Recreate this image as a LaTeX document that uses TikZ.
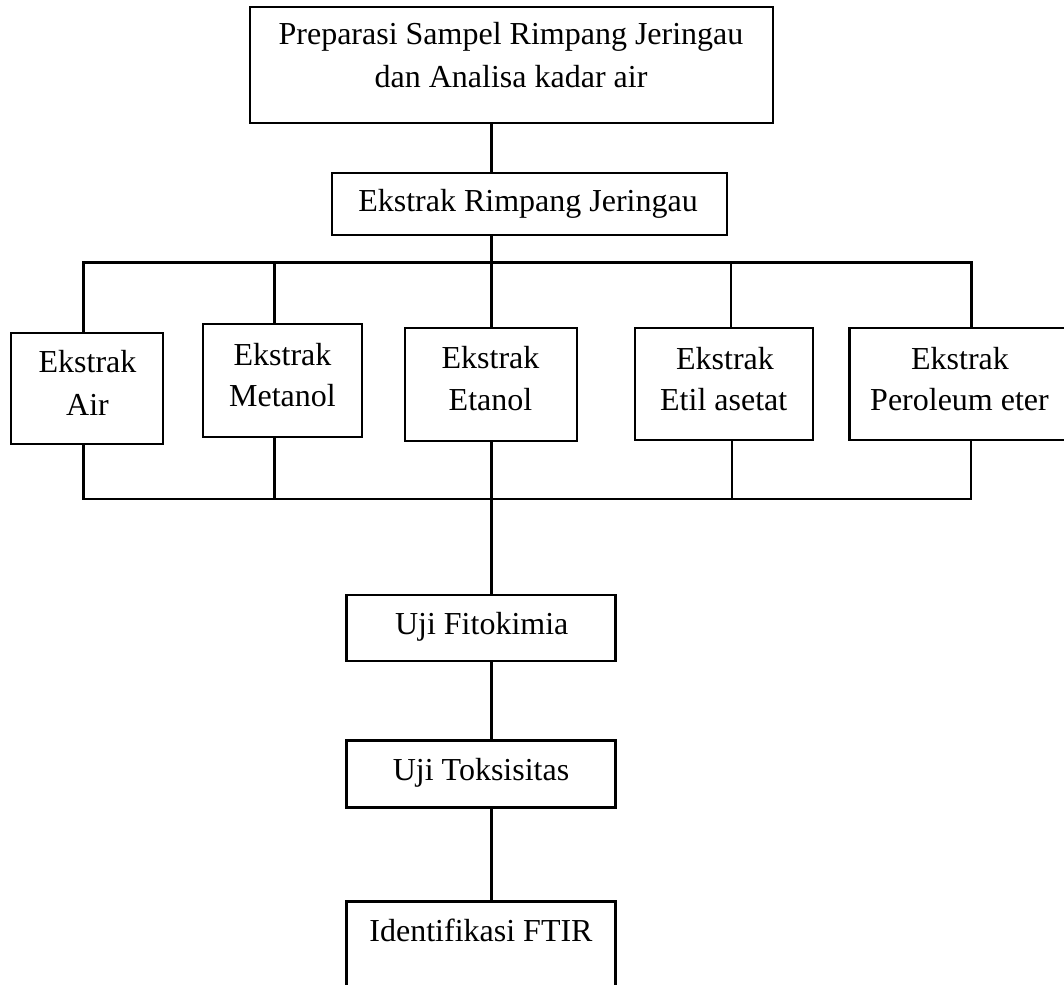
\documentclass[tikz,border=0pt]{standalone}
\usepackage{fontspec}
\setmainfont{Liberation Serif}
\begin{document}
\begin{tikzpicture}[x=1pt,y=-1pt,
  box/.style={draw, line width=2.6pt, rectangle, anchor=north west, inner sep=0pt, outer sep=0pt},
  lbl/.style={anchor=base, inner sep=0pt, font=\fontsize{32}{38}\selectfont},
  link/.style={line width=2.6pt}]
\clip (0,0) rectangle (1064,984);
% boxes
\node[box, minimum width=523pt, minimum height=116pt] (prep) at (250,7) {};
\node[box, minimum width=395pt, minimum height=62pt] (ekst) at (332,173) {};
\node[box, minimum width=152pt, minimum height=111pt] (air) at (11,333) {};
\node[box, minimum width=159pt, minimum height=113pt] (met) at (203,324) {};
\node[box, minimum width=172pt, minimum height=113pt] (eta) at (405,328) {};
\node[box, minimum width=178pt, minimum height=112pt] (etil) at (635,328) {};
\node[box, minimum width=219pt, minimum height=112pt] (pet) at (849.3,328) {};
\node[box, minimum width=269pt, minimum height=66pt] (fito) at (346.7,595) {};
\node[box, minimum width=269pt, minimum height=67pt] (toks) at (346.7,740.7) {};
\node[box, minimum width=269pt, minimum height=110pt] (ftir) at (346.7,901.7) {};
% texts
\node[lbl] (prep1) at (511,45) {Preparasi Sampel Rimpang Jeringau};
\node[lbl] (prep2) at (511,88) {dan Analisa kadar air};
\node[lbl] (ekst1) at (528,211.7) {Ekstrak Rimpang Jeringau};
\node[lbl] (air1) at (87.5,372.7) {Ekstrak};
\node[lbl] (air2) at (87.5,415) {Air};
\node[lbl] (met1) at (282.5,365) {Ekstrak};
\node[lbl] (met2) at (282.5,406.7) {Metanol};
\node[lbl] (eta1) at (490.5,368.3) {Ekstrak};
\node[lbl] (eta2) at (490.5,410) {Etanol};
\node[lbl] (etil1) at (725,369.3) {Ekstrak};
\node[lbl] (etil2) at (723.7,410.7) {Etil asetat};
\node[lbl] (pet1) at (960,369.3) {Ekstrak};
\node[lbl] (pet2) at (959.5,410.7) {Peroleum eter};
\node[lbl] (fito1) at (481.7,634.3) {Uji Fitokimia};
\node[lbl] (toks1) at (481,780) {Uji Toksisitas};
\node[lbl] (ftir1) at (481,941.7) {Identifikasi FTIR};
% bus coordinates
\coordinate (tA) at (83.5,262.5);
\coordinate (tM) at (274.5,262.5);
\coordinate (tE) at (491.7,262.5);
\coordinate (tT) at (731,262.5);
\coordinate (tP) at (971.5,262.5);
\coordinate (bA) at (83.5,499);
\coordinate (bM) at (274.5,499);
\coordinate (bE) at (491.7,499);
\coordinate (bT) at (732,499);
\coordinate (bP) at (971,499);
% connectors
\draw[link] (prep.south -| tE) -- (ekst.north -| tE);
\draw[link] (ekst.south -| tE) -- (tE);
\draw[link, line cap=rect] (tA) -- (tP);
\draw[link] (tA) -- (air.north -| tA);
\draw[link] (tM) -- (met.north -| tM);
\draw[link] (tE) -- (eta.north -| tE);
\draw[link] (tT) -- (etil.north -| tT);
\draw[link] (tP) -- (pet.north -| tP);
\draw[link, line cap=rect] (bA) -- (bP);
\draw[link] (air.south -| bA) -- (bA);
\draw[link] (met.south -| bM) -- (bM);
\draw[link] (eta.south -| bE) -- (fito.north -| bE);
\draw[link] (etil.south -| bT) -- (bT);
\draw[link] (pet.south -| bP) -- (bP);
\draw[link] (fito.south -| bE) -- (toks.north -| bE);
\draw[link] (toks.south -| bE) -- (ftir.north -| bE);
\end{tikzpicture}
\end{document}
